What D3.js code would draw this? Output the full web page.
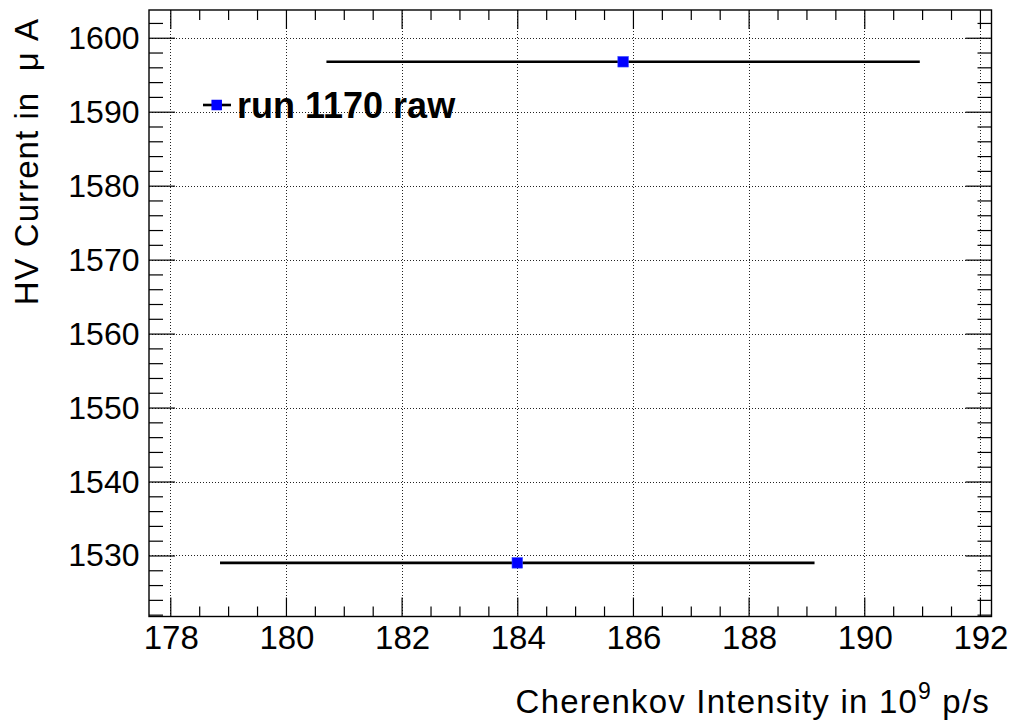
<!DOCTYPE html>
<html>
<head>
<meta charset="utf-8">
<script src="https://cdn.jsdelivr.net/npm/d3@7"></script>
<style>
  html, body { margin: 0; padding: 0; background: #fff; }
  svg { display: block; }
  text { font-family: "Liberation Sans", Arial, Helvetica, sans-serif; fill: #000; }
</style>
</head>
<body>
<svg id="chart" width="1016" height="726"></svg>
<script>
// ---- data ----
const seriesName = "run 1170 raw";
const xValues = [185.83, 184.0];
const yValues = [1596.75, 1529.0];
const xErrors = [5.13, 5.14];
const xTicks = [178, 180, 182, 184, 186, 188, 190, 192];
const yTicks = [1530, 1540, 1550, 1560, 1570, 1580, 1590, 1600];
const xDomain = [177.632, 192.2];
const yDomain = [1521.75, 1603.75];
const xTitle = "Cherenkov Intensity in 10";
const xTitleSup = "9";
const xTitleTail = " p/s";
const yTitle = "HV Current in  \u03BC A";

// ---- layout ----
const fL = 149, fR = 991.5, fT = 10, fB = 616.5;
const svg = d3.select("#chart");

const x = d3.scaleLinear().domain(xDomain).range([fL, fR]);
const y = d3.scaleLinear().domain(yDomain).range([fB, fT]);

// minor ticks
const xMinor = d3.range(177.5, 192.3, 0.5).filter(v => v >= xDomain[0] && v <= xDomain[1] && !xTicks.includes(v));
const yMinor = d3.range(1522, 1604, 2).filter(v => v >= yDomain[0] && v <= yDomain[1] && (v % 10) !== 0);

// grid
const grid = svg.append("g").attr("stroke", "#222").attr("stroke-width", 1).attr("stroke-dasharray", "1,2");
grid.selectAll("line.gx").data(xTicks).join("line")
  .attr("x1", d => Math.round(x(d)) + 0.5).attr("x2", d => Math.round(x(d)) + 0.5)
  .attr("y1", fT).attr("y2", fB);
grid.selectAll("line.gy").data(yTicks).join("line")
  .attr("y1", d => Math.round(y(d)) + 0.5).attr("y2", d => Math.round(y(d)) + 0.5)
  .attr("x1", fL).attr("x2", fR);

// axes with inward ticks
const xMajLen = 19, xMinLen = 10, yMajLen = 26, yMinLen = 14;
function addX(pos, dir) {
  const mk = dir > 0 ? d3.axisBottom : d3.axisTop;
  const g = svg.append("g").attr("transform", `translate(0,${pos})`);
  g.call(mk(x).tickValues(xTicks).tickSize(-xMajLen).tickFormat(""));
  const g2 = svg.append("g").attr("transform", `translate(0,${pos})`);
  g2.call(mk(x).tickValues(xMinor).tickSize(-xMinLen).tickFormat(""));
  [g, g2].forEach(gg => { gg.select(".domain").remove(); gg.selectAll("line").attr("stroke", "#000").attr("stroke-width", 1.2); });
}
function addY(pos, dir) {
  const mk = dir > 0 ? d3.axisLeft : d3.axisRight;
  const g = svg.append("g").attr("transform", `translate(${pos},0)`);
  g.call(mk(y).tickValues(yTicks).tickSize(-yMajLen).tickFormat(""));
  const g2 = svg.append("g").attr("transform", `translate(${pos},0)`);
  g2.call(mk(y).tickValues(yMinor).tickSize(-yMinLen).tickFormat(""));
  [g, g2].forEach(gg => { gg.select(".domain").remove(); gg.selectAll("line").attr("stroke", "#000").attr("stroke-width", 1.2); });
}
addX(fB, 1);
addX(fT, -1);
addY(fL, 1);
addY(fR, -1);

// frame
svg.append("rect").attr("x", fL).attr("y", fT).attr("width", fR - fL).attr("height", fB - fT)
  .attr("fill", "none").attr("stroke", "#000").attr("stroke-width", 1.4);

// tick labels
svg.append("g").selectAll("text").data(xTicks).join("text")
  .attr("x", d => x(d) + 1).attr("y", 649).attr("text-anchor", "middle")
  .attr("font-size", 33).text(d => d);
svg.append("g").selectAll("text").data(yTicks).join("text")
  .attr("x", 139.5).attr("y", d => y(d) + 11).attr("text-anchor", "end")
  .attr("font-size", 32).text(d => d);

// axis titles
const xt = svg.append("text").attr("x", 990).attr("y", 713).attr("text-anchor", "end")
  .attr("font-size", 33).attr("letter-spacing", 1.2);
xt.append("tspan").text(xTitle);
xt.append("tspan").attr("dy", -14).attr("font-size", 23).text(xTitleSup);
xt.append("tspan").attr("dy", 14).attr("font-size", 33).text(xTitleTail);

svg.append("text").attr("transform", "translate(37.5,18) rotate(-90)")
  .attr("text-anchor", "end").attr("font-size", 33).attr("letter-spacing", 1.05)
  .style("white-space", "pre").text(yTitle);

// data: error bars and markers
const pts = xValues.map((v, i) => ({ x: v, y: yValues[i], ex: xErrors[i] }));
svg.append("g").selectAll("line").data(pts).join("line")
  .attr("x1", d => x(d.x - d.ex)).attr("x2", d => x(d.x + d.ex))
  .attr("y1", d => y(d.y)).attr("y2", d => y(d.y))
  .attr("stroke", "#000").attr("stroke-width", 2.6);
const ms = 10.5;
svg.append("g").selectAll("rect").data(pts).join("rect")
  .attr("x", d => x(d.x) - ms / 2).attr("y", d => y(d.y) - ms / 2)
  .attr("width", ms).attr("height", ms).attr("fill", "#0000ff").attr("stroke", "#3344ff").attr("stroke-width", 0.6);

// legend
const lg = svg.append("g");
lg.append("line").attr("x1", 203).attr("x2", 231).attr("y1", 105).attr("y2", 105).attr("stroke", "#000").attr("stroke-width", 2.6);
lg.append("rect").attr("x", 216.7 - ms / 2).attr("y", 105 - ms / 2).attr("width", ms).attr("height", ms).attr("fill", "#0000ff");
lg.append("text").attr("x", 237).attr("y", 117.5).attr("font-size", 36).attr("font-weight", "bold").text(seriesName);
</script>
</body>
</html>
